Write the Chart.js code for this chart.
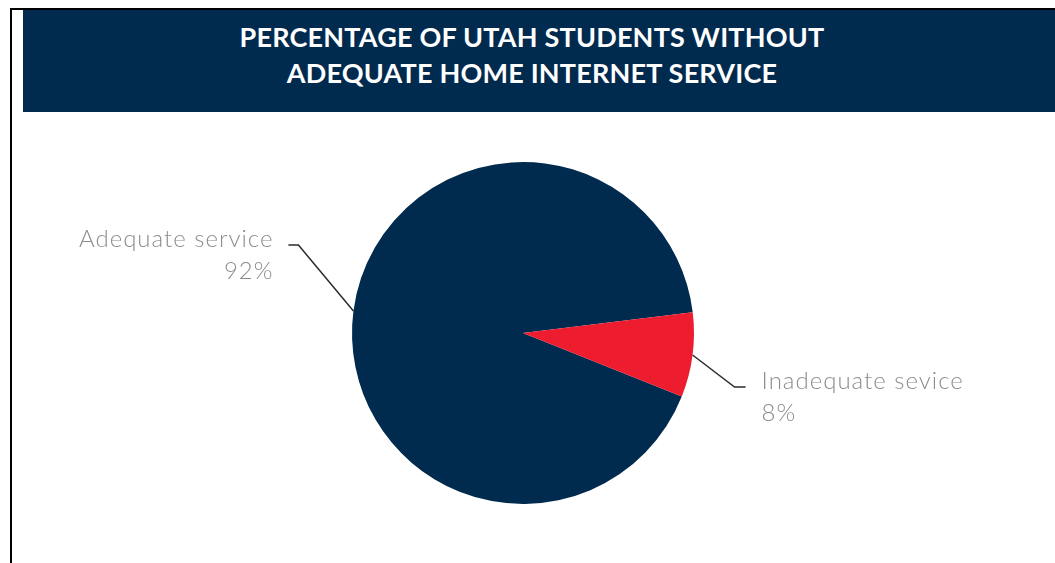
<!DOCTYPE html>
<html>
<head>
<meta charset="utf-8">
<script src="https://cdn.jsdelivr.net/npm/chart.js@4.4.1/dist/chart.umd.min.js"></script>
<style>
  html, body { margin: 0; padding: 0; background: #fff; width: 1055px; height: 563px; overflow: hidden; }
  #frameTop { position: absolute; left: 10px; top: 8px; width: 1045px; height: 2px; background: #000; }
  #frameLeft { position: absolute; left: 10px; top: 8px; width: 2px; height: 555px; background: #000; }
  #banner {
    position: absolute; left: 23px; top: 10px; width: 1032px; height: 102px;
    background: #002a4e; color: #fff; text-align: center;
    font-family: Lato, sans-serif; font-weight: 700; font-size: 27px; line-height: 36px;
    box-sizing: border-box; padding-top: 9px; padding-right: 14px; letter-spacing: 0.2px;
  }
  #wrap { position: absolute; left: 13px; top: 112px; width: 1042px; height: 451px; }
</style>
</head>
<body>
<div id="frameTop"></div>
<div id="frameLeft"></div>
<div id="banner">PERCENTAGE OF UTAH STUDENTS WITHOUT<br>ADEQUATE HOME INTERNET SERVICE</div>
<div id="wrap"><canvas id="myChart"></canvas></div>
<script>
const categories = ['Adequate service', 'Inadequate sevice'];
const shares = [92, 8];
const shareLabels = ['92%', '8%'];
const sliceColors = ['#002a4e', '#ed1c2e'];

// leader line + label drawing, anchored on each arc's own geometry
const leaderLabels = {
    id: 'leaderLabels',
    afterDatasetsDraw(chart, args, opts) {
        const c = chart.ctx;
        const arcs = chart.getDatasetMeta(0).data;
        arcs.forEach((arc, i) => {
            const p = arc.getProps(['x', 'y', 'startAngle', 'endAngle', 'outerRadius'], true);
            const mid = (p.startAngle + p.endAngle) / 2;
            const x0 = p.x + Math.cos(mid) * p.outerRadius;
            const y0 = p.y + Math.sin(mid) * p.outerRadius;
            const o = opts.offsets[i];
            const x1 = x0 + o.dx, y1 = y0 + o.dy;
            const x2 = x1 + o.h;
            c.save();
            c.strokeStyle = '#2b2b2b';
            c.lineWidth = 1.5;
            c.beginPath();
            c.moveTo(x0, y0);
            c.lineTo(x1, y1);
            c.lineTo(x2, y1);
            c.stroke();
            c.fillStyle = '#8c8c8c';
            c.font = '300 24px Lato, sans-serif';
            c.letterSpacing = '1px';
            c.textBaseline = 'alphabetic';
            const left = o.h > 0;
            c.textAlign = left ? 'left' : 'right';
            const tx = x2 + (left ? o.gap : -o.gap);
            c.fillText(chart.data.labels[i], tx, y1 + o.base);
            c.fillText(shareLabels[i], tx, y1 + o.base + 32);
            c.restore();
        });
    }
};

const ctx = document.getElementById('myChart').getContext('2d');
const myChart = new Chart(ctx, {
    type: 'pie',
    data: {
        labels: categories,
        datasets: [{
            data: shares,
            backgroundColor: sliceColors,
            borderWidth: 0
        }]
    },
    options: {
        responsive: true,
        maintainAspectRatio: false,
        animation: false,
        rotation: 111.8,
        layout: { padding: { left: 0, right: 22, top: 50, bottom: 59 } },
        plugins: {
            legend: { display: false },
            tooltip: { enabled: false },
            leaderLabels: {
                offsets: [
                    { dx: -55, dy: -66, h: -10, gap: 15, base: 2 },
                    { dx: 42, dy: 32, h: 11, gap: 16, base: 2 }
                ]
            }
        }
    },
    plugins: [leaderLabels]
});
</script>
</body>
</html>
